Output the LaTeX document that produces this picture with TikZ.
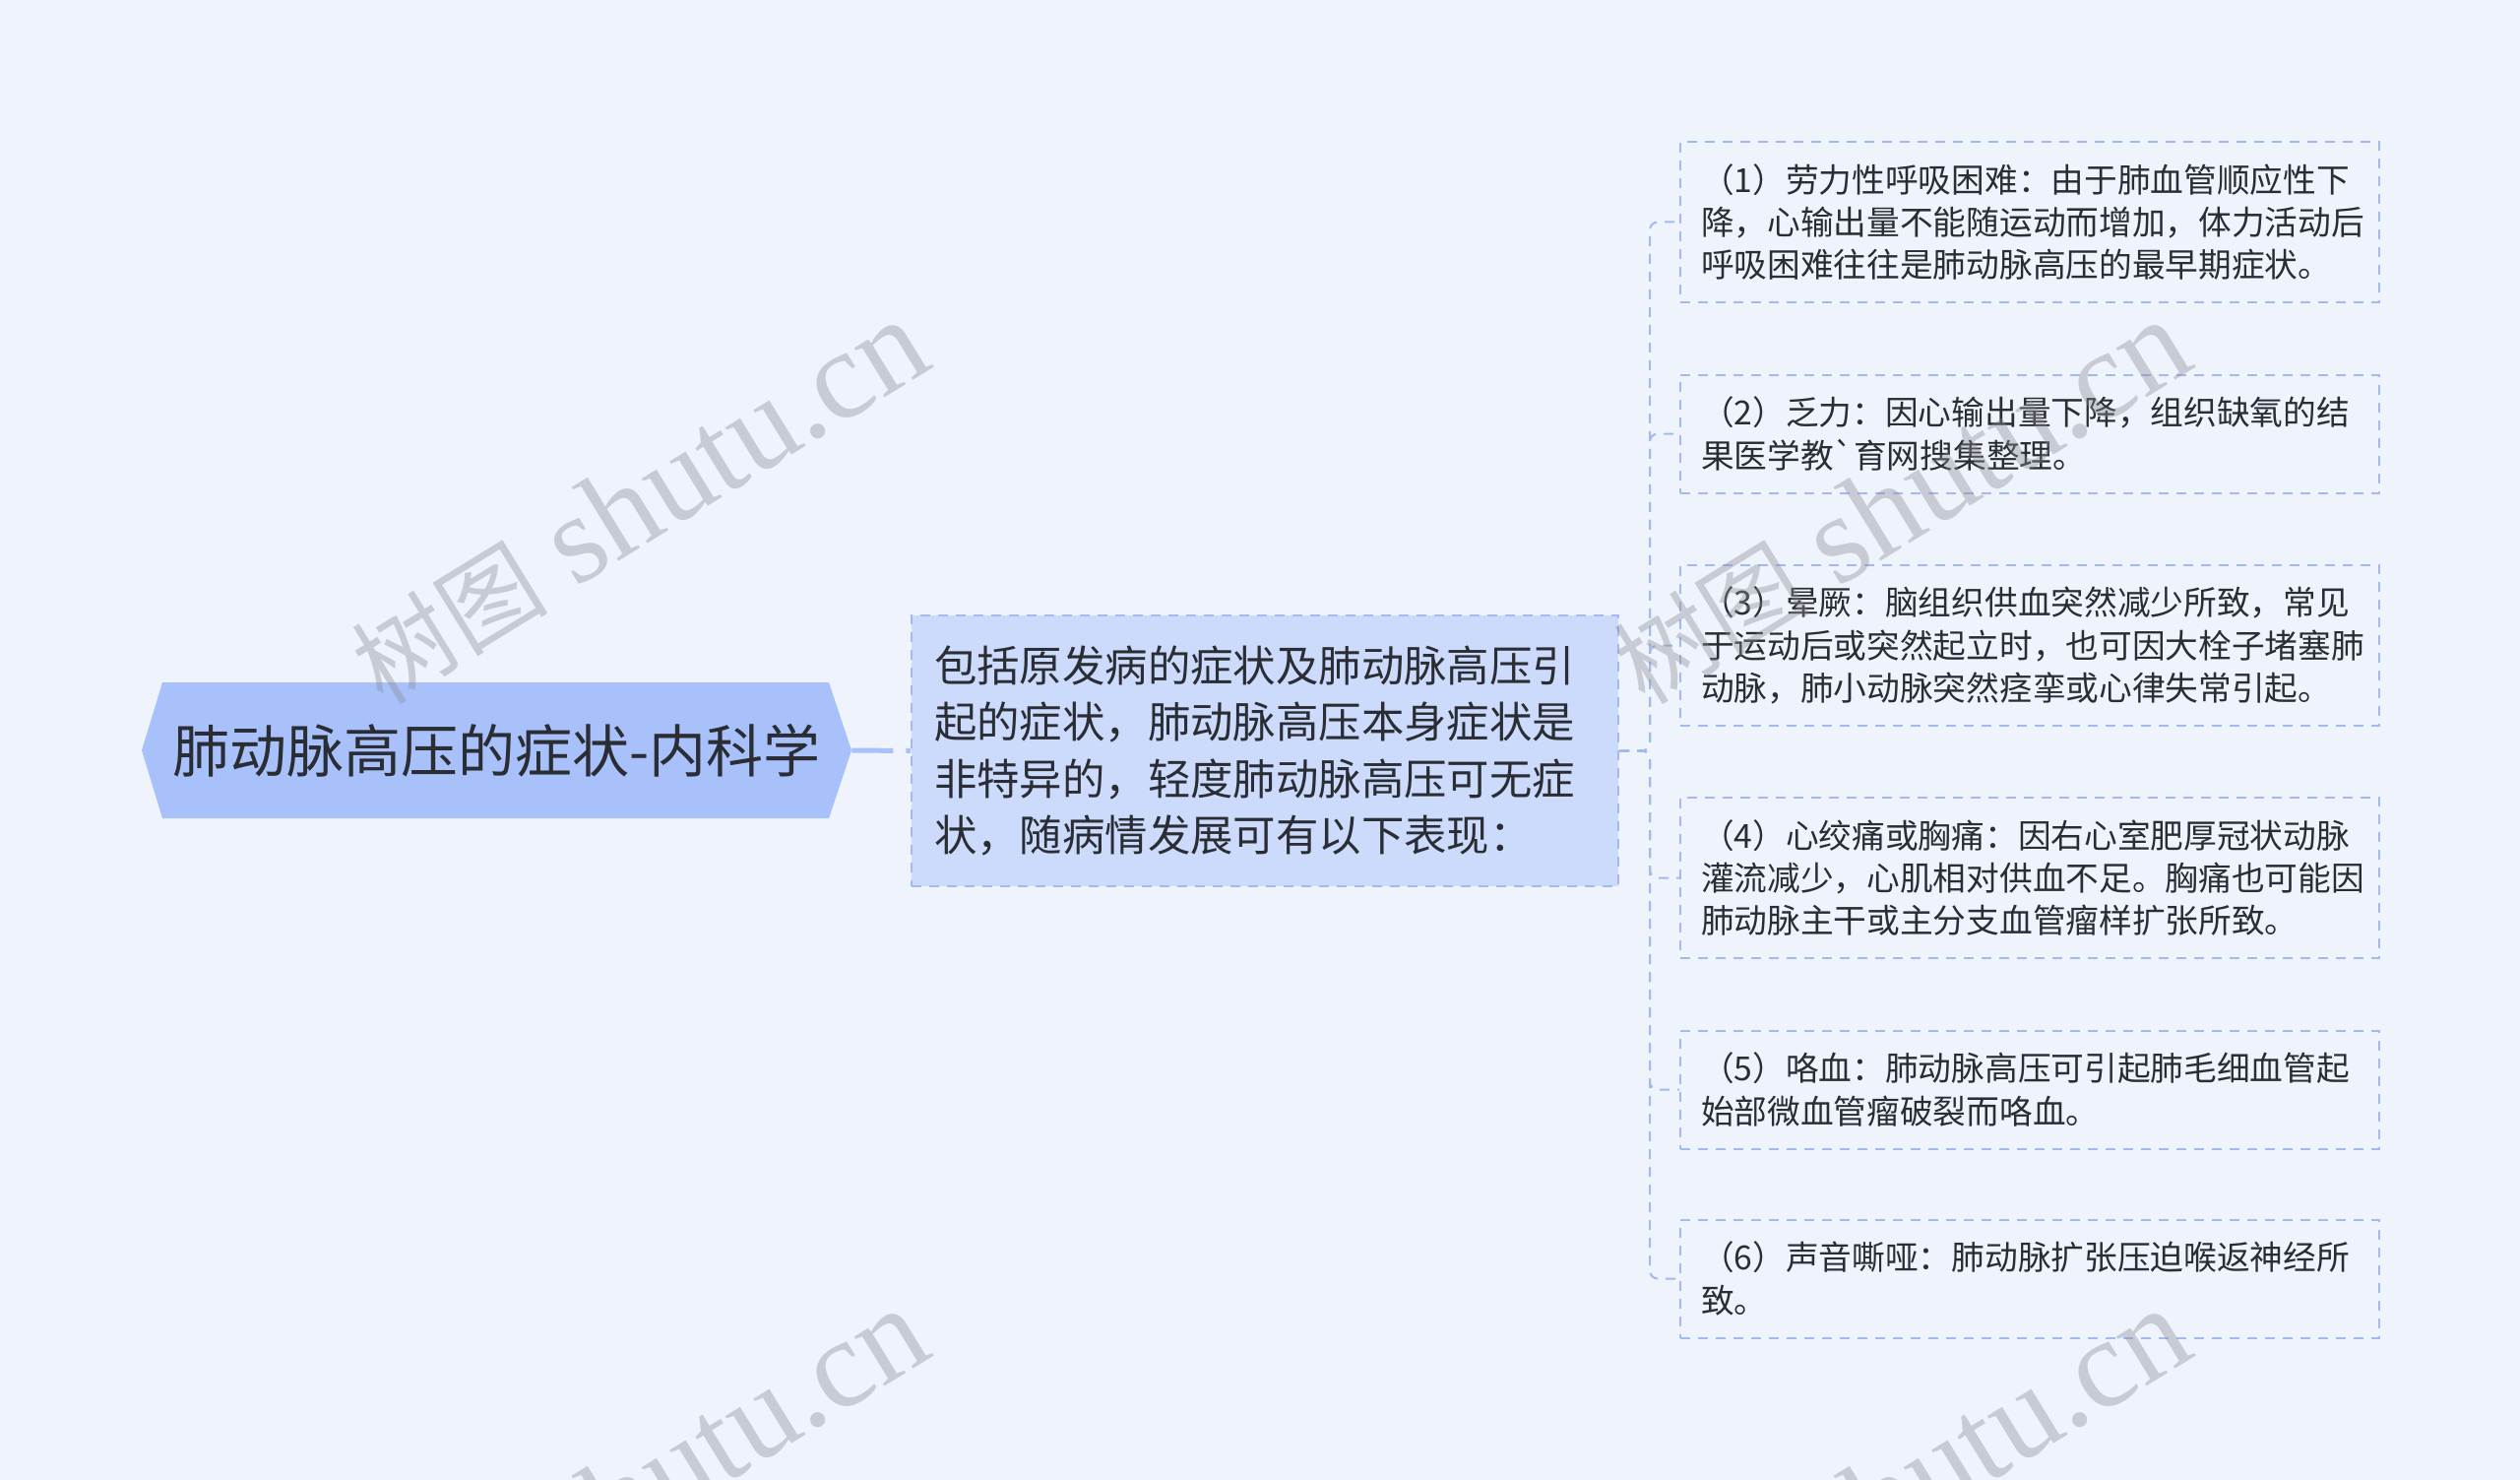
\documentclass[tikz,border=0pt]{standalone}
\usepackage{fontspec}
\setmainfont{Noto Sans CJK SC}
\newfontfamily\cjk{Noto Sans CJK SC}
\newfontfamily\wmserif{Liberation Serif}
\definecolor{bgc}{RGB}{238,243,252}
\definecolor{rootfill}{RGB}{169,193,251}
\definecolor{midfill}{RGB}{204,219,252}
\definecolor{linec}{RGB}{163,186,240}
\definecolor{txt}{RGB}{43,45,52}
\definecolor{wmc}{RGB}{140,140,145}
\begin{document}
\begin{tikzpicture}[x=0.5pt,y=-0.5pt,
  rootnode/.style={minimum width=360.5pt, minimum height=69pt, inner sep=0pt, text=txt,
    font=\fontsize{29pt}{34pt}\selectfont},
  midnode/.style={fill=midfill, draw=linec, line width=1pt, dash pattern=on 5pt off 4pt,
    minimum width=359pt, minimum height=137.5pt, text width=336pt, inner xsep=11.5pt,
    inner ysep=0pt, align=left, text=txt, font=\fontsize{21.7pt}{28.8pt}\selectfont},
  leaf/.style={draw=linec, line width=1pt, dash pattern=on 5pt off 4pt,
    minimum width=355pt, text width=334pt, inner xsep=10.5pt, inner ysep=0pt,
    align=left, anchor=west, text=txt, font=\fontsize{16.85pt}{21.65pt}\selectfont},
  leafthree/.style={leaf, minimum height=81.5pt},
  leaftwo/.style={leaf, minimum height=60pt},
  link/.style={draw=linec, line width=1pt, dash pattern=on 5pt off 4pt, rounded corners=4pt},
  rootlink/.style={draw=rootfill, line width=2.5pt, dash pattern=on 21pt off 6.5pt on 5pt off 0pt},
  wm/.style={text=wmc, text opacity=0.38, inner sep=0pt, font=\fontsize{64pt}{64pt}\selectfont}
]
\useasboundingbox (0,0) rectangle (2560,1503);
\clip (0,0) rectangle (2560,1503);
\fill[bgc] (0,0) rectangle (2560,1503);

% root
\fill[rootfill] (144,762) -- (165,693) -- (842,693) -- (865,762) -- (842,831) -- (165,831) -- cycle;
\node[rootnode] (root) at (504.5,762) {肺动脉高压的症状-内科学};

% middle
\node[midnode] (mid) at (1285,762.5) {包括原发病的症状及肺动脉高压引\\起的症状，肺动脉高压本身症状是\\非特异的，轻度肺动脉高压可无症\\状，随病情发展可有以下表现：};

% leaves
\node[leafthree] (c1) at (1706,225.5) {（1）劳力性呼吸困难：由于肺血管顺应性下\\降，心输出量不能随运动而增加，体力活动后\\呼吸困难往往是肺动脉高压的最早期症状。};
\node[leaftwo] (c2) at (1706,440.5) {（2）乏力：因心输出量下降，组织缺氧的结\\果医学教\textasciigrave 育网搜集整理。};
\node[leafthree] (c3) at (1706,655.5) {（3）晕厥：脑组织供血突然减少所致，常见\\于运动后或突然起立时，也可因大栓子堵塞肺\\动脉，肺小动脉突然痉挛或心律失常引起。};
\node[leafthree] (c4) at (1706,891.5) {（4）心绞痛或胸痛：因右心室肥厚冠状动脉\\灌流减少，心肌相对供血不足。胸痛也可能因\\肺动脉主干或主分支血管瘤样扩张所致。};
\node[leaftwo] (c5) at (1706,1106.5) {（5）咯血：肺动脉高压可引起肺毛细血管起\\始部微血管瘤破裂而咯血。};
\node[leaftwo] (c6) at (1706,1298.5) {（6）声音嘶哑：肺动脉扩张压迫喉返神经所\\致。};

% connectors
\draw[rootlink] (root.east) -- (mid.west);
\coordinate (trunk) at (1676,762.5);
\foreach \i in {1,...,6}
  \draw[link] (mid.east) -- (trunk) |- (c\i.west);

% watermarks
\node[wm, rotate=31.6] (wm1) at (649,510) {{\cjk\fontsize{50pt}{50pt}\selectfont 树图} {\wmserif shutu.cn}};
\node[wm, rotate=31.6] (wm2) at (1931,510) {{\cjk\fontsize{50pt}{50pt}\selectfont 树图} {\wmserif shutu.cn}};
\node[wm, rotate=31.6] (wm3) at (649,1514) {{\cjk\fontsize{50pt}{50pt}\selectfont 树图} {\wmserif shutu.cn}};
\node[wm, rotate=31.6] (wm4) at (1931,1514) {{\cjk\fontsize{50pt}{50pt}\selectfont 树图} {\wmserif shutu.cn}};
\end{tikzpicture}
\end{document}
